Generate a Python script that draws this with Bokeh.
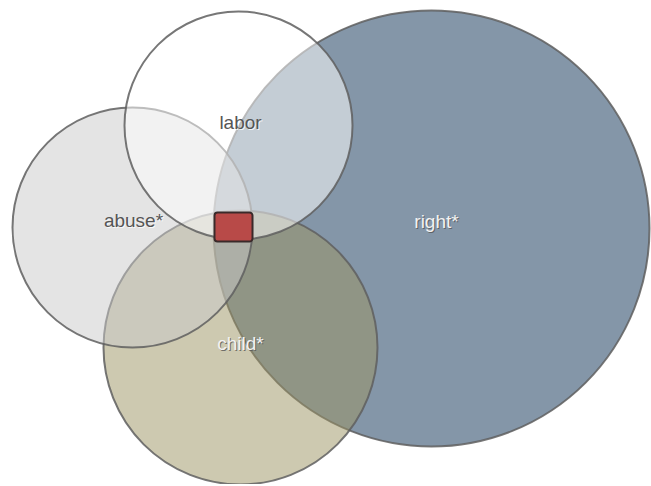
from bokeh.plotting import figure
from bokeh.models import Range1d
from bokeh.core.properties import value
from bokeh.embed import file_html
from bokeh.resources import INLINE

# Venn sets (drawn bottom to top)
sets = ["right*", "child*", "abuse*", "labor"]
cx = [431, 240, 132, 238]
cy = [228, 347, 227, 125]
radius = [218, 137, 120, 114]
fill_colors = ["#8496a8", "#9b9361", "#c9c9c9", "#ffffff"]
fill_alphas = [1.0, 0.5, 0.5, 0.52]

# label positions
label_x = [436, 240, 133, 240]
label_y = [221, 343, 220, 122]
label_light = [True, True, False, False]

# intersection cell
cell_left, cell_right, cell_top, cell_bottom = 214, 252, 212, 241

W, H = 651, 484
p = figure(width=W, height=H, output_backend="svg", toolbar_location=None,
           x_range=Range1d(0, W), y_range=Range1d(H, 0),
           min_border=0, outline_line_color=None)
p.axis.visible = False
p.grid.visible = False
p.background_fill_color = "white"
p.border_fill_color = "white"

for i in range(len(sets)):
    p.circle(x=[cx[i]], y=[cy[i]], radius=radius[i],
             fill_color=fill_colors[i], fill_alpha=fill_alphas[i],
             line_color="#5f5f5f", line_width=2, line_alpha=0.85)

kw = dict(left=[cell_left], right=[cell_right], top=[cell_top], bottom=[cell_bottom],
          fill_color="#b84a48", line_color="#3a2a2a", line_width=2)
try:
    p.quad(border_radius=3, **kw)
except Exception:
    p.quad(**kw)

font = value("Liberation Sans")
fs = "19px"
for i in range(len(sets)):
    if label_light[i]:
        p.text(x=[label_x[i] + 1], y=[label_y[i] + 1], text=[sets[i]], text_font=font,
               text_font_size=fs, text_align="center", text_baseline="middle",
               text_color="#555555", text_alpha=0.8)
        p.text(x=[label_x[i]], y=[label_y[i]], text=[sets[i]], text_font=font,
               text_font_size=fs, text_align="center", text_baseline="middle",
               text_color="#f2f2f2")
    else:
        p.text(x=[label_x[i] + 1], y=[label_y[i] + 1], text=[sets[i]], text_font=font,
               text_font_size=fs, text_align="center", text_baseline="middle",
               text_color="#ffffff", text_alpha=0.8)
        p.text(x=[label_x[i]], y=[label_y[i]], text=[sets[i]], text_font=font,
               text_font_size=fs, text_align="center", text_baseline="middle",
               text_color="#555555")

open("out.html", "w").write(file_html(p, INLINE))
